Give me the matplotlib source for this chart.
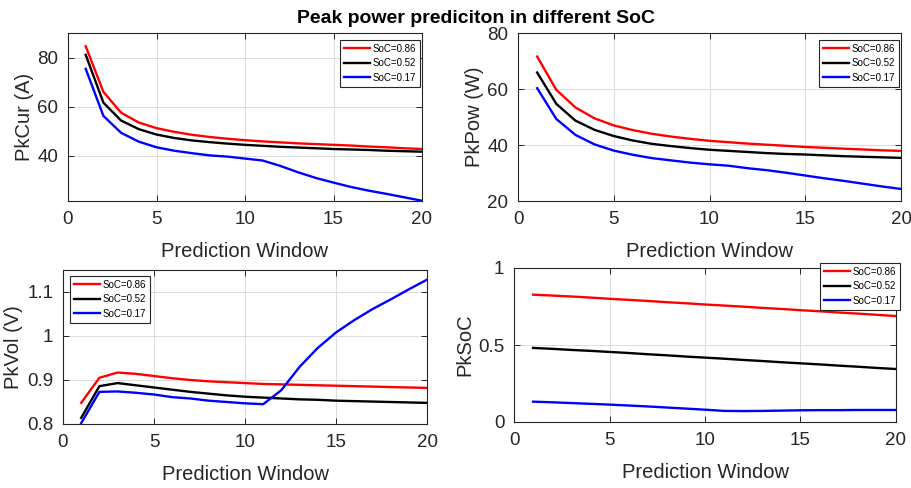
import numpy as np
import matplotlib
matplotlib.use("Agg")
import matplotlib.pyplot as plt

plt.rcParams['font.family'] = ['Liberation Sans', 'DejaVu Sans']

# prediction window steps
window = list(range(1, 21))
soc_labels = ['SoC=0.86', 'SoC=0.52', 'SoC=0.17']
soc_colors = ['#ff0000', '#000000', '#0000ff']

# peak current (A)
cur_086 = [84.6, 66.0, 57.5, 53.5, 51.2, 49.7, 48.5, 47.6, 46.9, 46.3,
           45.8, 45.4, 45.0, 44.7, 44.4, 44.1, 43.7, 43.4, 43.0, 42.7]
cur_052 = [81.1, 61.6, 54.3, 50.8, 48.6, 47.2, 46.2, 45.5, 44.9, 44.4,
           44.0, 43.6, 43.3, 43.0, 42.7, 42.5, 42.3, 42.0, 41.8, 41.6]
cur_017 = [75.4, 56.2, 49.3, 45.7, 43.4, 42.0, 41.0, 40.1, 39.6, 38.8,
           38.0, 35.8, 33.2, 30.9, 29.0, 27.2, 25.7, 24.4, 23.0, 21.6]

# peak power (W)
pow_086 = [71.6, 59.7, 53.4, 49.5, 47.0, 45.3, 44.0, 43.0, 42.2, 41.5,
           41.0, 40.5, 40.1, 39.7, 39.3, 39.0, 38.7, 38.4, 38.1, 37.9]
pow_052 = [65.9, 54.7, 48.7, 45.4, 43.2, 41.6, 40.4, 39.6, 38.9, 38.3,
           37.9, 37.5, 37.1, 36.8, 36.6, 36.3, 36.0, 35.8, 35.6, 35.4]
pow_017 = [60.3, 49.3, 43.6, 40.2, 38.0, 36.5, 35.3, 34.5, 33.7, 33.1,
           32.6, 31.7, 31.0, 30.1, 29.1, 28.1, 27.2, 26.2, 25.2, 24.3]

# peak voltage (V)
vol_086 = [0.848, 0.905, 0.917, 0.914, 0.909, 0.904, 0.900, 0.897, 0.895, 0.893,
           0.891, 0.890, 0.889, 0.888, 0.887, 0.886, 0.885, 0.884, 0.883, 0.882]
vol_052 = [0.814, 0.886, 0.893, 0.888, 0.883, 0.878, 0.873, 0.869, 0.865, 0.862,
           0.860, 0.858, 0.856, 0.855, 0.853, 0.852, 0.851, 0.850, 0.849, 0.848]
vol_017 = [0.802, 0.873, 0.874, 0.871, 0.867, 0.861, 0.858, 0.853, 0.850, 0.847,
           0.845, 0.877, 0.930, 0.973, 1.008, 1.036, 1.061, 1.083, 1.106, 1.128]

# SoC at end of window
soc_086 = [0.827, 0.821, 0.815, 0.808, 0.800, 0.793, 0.786, 0.778, 0.771, 0.763,
           0.756, 0.749, 0.741, 0.734, 0.726, 0.719, 0.711, 0.704, 0.696, 0.688]
soc_052 = [0.481, 0.475, 0.468, 0.462, 0.455, 0.448, 0.440, 0.433, 0.425, 0.418,
           0.411, 0.403, 0.396, 0.388, 0.381, 0.374, 0.366, 0.359, 0.351, 0.344]
soc_017 = [0.132, 0.128, 0.123, 0.118, 0.113, 0.107, 0.101, 0.094, 0.087, 0.080,
           0.072, 0.071, 0.072, 0.074, 0.076, 0.077, 0.077, 0.078, 0.078, 0.078]

W, H = 912, 488
fig = plt.figure(figsize=(W / 100, H / 100), dpi=100)


def px_axes(left, top, right, bottom):
    return fig.add_axes([left / W, 1 - bottom / H, (right - left) / W, (bottom - top) / H])


panels = [
    # (box px, series, ylim, yticks, yticklabels, ylabel, ylabel x, legend anchor px)
    ((68, 33, 422, 201), [cur_086, cur_052, cur_017], (21.5, 90), [40, 60, 80], ['40', '60', '80'],
     'PkCur (A)', -0.095, (340, 40)),
    ((518, 33, 901, 201), [pow_086, pow_052, pow_017], (20, 80), [20, 40, 60, 80], ['20', '40', '60', '80'],
     'PkPow (W)', -0.088, (819, 40)),
    ((63, 270, 427, 424), [vol_086, vol_052, vol_017], (0.8, 1.15), [0.8, 0.9, 1.0, 1.1], ['0.8', '0.9', '1', '1.1'],
     'PkVol (V)', -0.11, (70, 276)),
    ((514, 268, 896, 422), [soc_086, soc_052, soc_017], (0, 1), [0, 0.5, 1], ['0', '0.5', '1'],
     'PkSoC', -0.105, (820, 263)),
]

for box, series, ylim, yt, ytl, ylab, ylx, leg in panels:
    ax = px_axes(*box)
    for vals, lab, col in zip(series, soc_labels, soc_colors):
        ax.plot(window, vals, color=col, lw=1.7, label=lab)
    ax.set_xlim(0, 20)
    ax.set_ylim(*ylim)
    ax.set_xticks([0, 5, 10, 15, 20])
    ax.set_yticks(yt)
    ax.set_yticklabels(ytl)
    ax.grid(True, color='#dcdcdc', lw=0.7)
    ax.set_axisbelow(True)
    ax.tick_params(direction='in', top=True, right=True, length=4, width=0.7,
                   labelsize=13.5, colors='#262626', pad=7)
    for s in ax.spines.values():
        s.set_color('#262626')
        s.set_linewidth(0.8)
    ax.set_xlabel('Prediction Window', fontsize=14.5, color='#262626', labelpad=10)
    ax.set_ylabel(ylab, fontsize=14.5, color='#262626')
    ax.yaxis.set_label_coords(ylx, 0.5)
    lg = ax.legend(loc='upper left', bbox_to_anchor=(leg[0] / W, 1 - leg[1] / H),
                   bbox_transform=fig.transFigure, borderaxespad=0, fontsize=7,
                   fancybox=False, framealpha=1, edgecolor='#262626',
                   handlelength=2.7, handletextpad=0.25, labelspacing=0.45,
                   borderpad=0.4)
    lg.get_frame().set_linewidth(0.8)

fig.text(476 / W, 1 - 23 / H, 'Peak power prediciton in different SoC', ha='center',
         va='baseline', fontsize=14, fontweight='bold', color='#000000')

fig.savefig('out.png', dpi=100)
